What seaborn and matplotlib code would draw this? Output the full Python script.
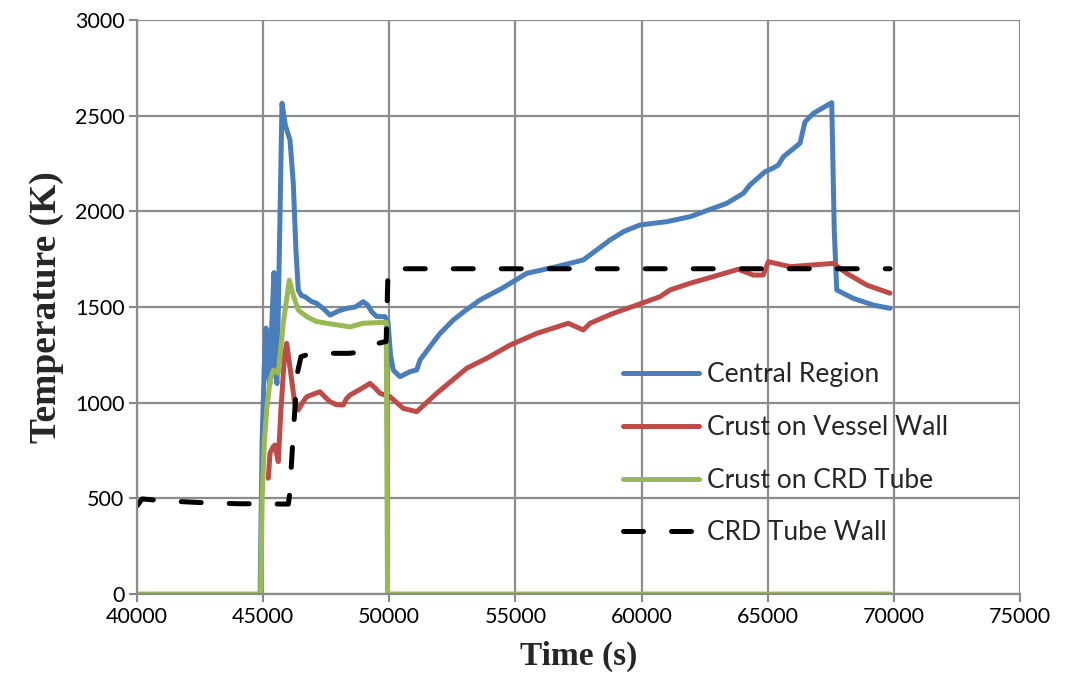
import numpy as np
import pandas as pd
import matplotlib
matplotlib.use("Agg")
import matplotlib.pyplot as plt
import seaborn as sns

# Temperature histories (time in s, temperature in K)
central_t = [44880, 44960, 45050, 45114, 45190, 45272, 45340, 45431, 45490, 45550,
             45748, 45880, 46065, 46196, 46300, 46394, 46520, 46660, 46900, 47124,
             47400, 47651, 48000, 48313, 48650, 48971, 49150, 49304, 49502, 49831,
             49950, 50050, 50160, 50425, 50822, 51088, 51218, 51615, 52000, 52539,
             53000, 53597, 54500, 55448, 56637, 57692, 58750, 59300, 59939, 60997,
             61921, 62714, 63376, 64034, 64299, 64894, 65200, 65422, 65620, 66281,
             66480, 66809, 67539, 67640, 67737, 68396, 69190, 69850]
central_T = [0, 800, 1200, 1390, 1150, 1100, 1400, 1680, 1150, 1100,
             2565, 2450, 2373, 2146, 1800, 1589, 1560, 1554, 1530, 1519,
             1490, 1458, 1480, 1493, 1500, 1528, 1510, 1475, 1450, 1450,
             1420, 1250, 1170, 1136, 1162, 1171, 1223, 1293, 1360, 1432,
             1480, 1537, 1600, 1676, 1711, 1746, 1850, 1895, 1929, 1946,
             1972, 2010, 2042, 2094, 2138, 2207, 2225, 2242, 2285, 2356,
             2468, 2512, 2568, 1900, 1589, 1545, 1510, 1493]

vessel_t = [45205, 45272, 45400, 45470, 45601, 45700, 45850, 45934, 46100, 46250,
            46394, 46560, 46727, 47000, 47254, 47450, 47651, 47900, 48178, 48300,
            48443, 48850, 49236, 49450, 49632, 50029, 50556, 51088, 51880, 53070,
            53862, 54786, 55844, 57097, 57692, 57958, 58881, 59808, 60732, 61128,
            61921, 62845, 63836, 64430, 64827, 65025, 65886, 67602, 68133, 68926,
            69850]
vessel_T = [605, 735, 770, 779, 692, 950, 1250, 1310, 1150, 1000,
            962, 1000, 1031, 1045, 1057, 1030, 1005, 990, 988, 1020,
            1040, 1070, 1101, 1075, 1049, 1031, 970, 953, 1049, 1180,
            1232, 1301, 1362, 1415, 1380, 1415, 1467, 1510, 1554, 1589,
            1624, 1659, 1697, 1667, 1667, 1737, 1711, 1728, 1676, 1615,
            1572]

crd_crust_t = [40000, 44900, 44960, 45050, 45141, 45280, 45403, 45601, 45799, 46037,
               46200, 46394, 46727, 47100, 47520, 48443, 48959, 49763, 49880, 49930,
               69850]
crd_crust_T = [0, 0, 500, 800, 962, 1120, 1170, 1155, 1415, 1640,
               1560, 1484, 1450, 1425, 1415, 1396, 1415, 1420, 1420, 0,
               0]

crd_wall_t = [40000, 40200, 41000, 42500, 44000, 46000, 46050, 46200, 46350, 46500,
              46727, 47500, 48400, 48900, 49250, 49550, 49880, 49950, 50050, 60000,
              69850]
crd_wall_T = [460, 497, 488, 478, 472, 470, 520, 850, 1150, 1240,
              1250, 1258, 1258, 1265, 1290, 1310, 1320, 1690, 1700, 1700,
              1700]

series_names = ["Central Region", "Crust on Vessel Wall", "Crust on CRD Tube", "CRD Tube Wall"]
series_colors = ["#4A7EBB", "#BE4B48", "#98B954", "#000000"]

x_ticks = [40000, 45000, 50000, 55000, 60000, 65000, 70000, 75000]
y_ticks = [0, 500, 1000, 1500, 2000, 2500, 3000]

frames = []
for name, t, temp in zip(series_names,
                         [central_t, vessel_t, crd_crust_t, crd_wall_t],
                         [central_T, vessel_T, crd_crust_T, crd_wall_T]):
    frames.append(pd.DataFrame({"Time": t, "Temperature": temp, "Series": name}))
df = pd.concat(frames, ignore_index=True)

sns.set_theme(style="white")
plt.rcParams["font.family"] = ["Lato", "DejaVu Sans"]

fig = plt.figure(figsize=(10.66, 7.0), dpi=100)
ax = fig.add_axes([0.1285, 0.1514, 0.8283, 0.82])

dash_map = {
    "Central Region": "",
    "Crust on Vessel Wall": "",
    "Crust on CRD Tube": "",
    "CRD Tube Wall": (4.0, 5.6),
}
lw = 3.6
sns.lineplot(data=df, x="Time", y="Temperature", hue="Series", style="Series",
             hue_order=series_names, style_order=series_names,
             palette=dict(zip(series_names, series_colors)), dashes=dash_map,
             sort=False, estimator=None, linewidth=lw, ax=ax)

for line in ax.get_lines():
    line.set_solid_capstyle("round")
    line.set_dash_capstyle("round")
    line.set_solid_joinstyle("round")

ax.set_xlim(40000, 75000)
ax.set_ylim(0, 3000)
ax.set_xticks(x_ticks)
ax.set_yticks(y_ticks)
ax.set_xticklabels([str(v) for v in x_ticks])
ax.set_yticklabels([str(v) for v in y_ticks])
ax.tick_params(axis="both", labelsize=15.5, colors="#888888", labelcolor="black",
               direction="out", length=6, width=1.5, pad=3)
ax.tick_params(axis="both", which="both", bottom=True, left=True)

ax.grid(True, color="#8C8C8C", linewidth=1.6)
ax.set_axisbelow(True)
for side in ["top", "right"]:
    ax.spines[side].set_visible(False)
for side in ["left", "bottom"]:
    ax.spines[side].set_color("#8C8C8C")
    ax.spines[side].set_linewidth(1.6)

ax.set_xlabel("Time (s)", fontsize=24, fontweight="bold", family="Liberation Serif", labelpad=10)
ax.set_ylabel("Temperature (K)", fontsize=27, fontweight="bold", family="Liberation Serif", labelpad=8)

handles, labels = ax.get_legend_handles_labels()
leg = ax.legend(handles=handles, labels=labels, loc="upper left",
                bbox_to_anchor=(0.523, 0.445), frameon=False, fontsize=19,
                handlelength=2.9, handletextpad=0.3, labelspacing=1.05)
for lh in leg.get_lines():
    lh.set_linewidth(lw)
    lh.set_solid_capstyle("round")
    lh.set_dash_capstyle("round")

fig.savefig("out.png", dpi=100)
